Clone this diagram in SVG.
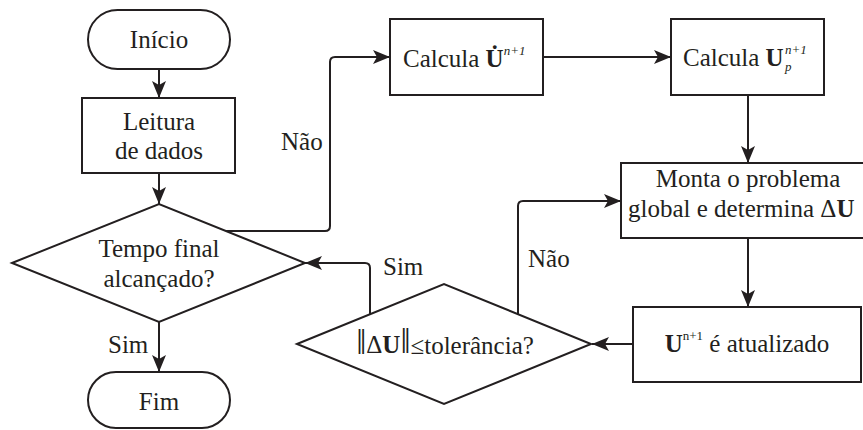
<svg xmlns="http://www.w3.org/2000/svg" width="863" height="430" viewBox="0 0 863 430">
<style>
.s{fill:#fff;stroke:#231f20;stroke-width:2}
.c{fill:none;stroke:#231f20;stroke-width:2}
text{font-size:25px;fill:#231f20}
.m{text-anchor:middle}
.b{font-weight:bold}
.i{font-style:italic}
.sup{font-size:13px}
</style>
<defs>
<marker id="a" viewBox="-17 -7 17 14" refX="0" refY="0" markerWidth="17" markerHeight="14" markerUnits="userSpaceOnUse" orient="auto">
<path d="M0,0 L-17,-7 L-13,0 L-17,7 Z" fill="#231f20"/>
</marker>
</defs>
<rect width="863" height="430" fill="#fff"/>
<g font-family="Liberation Serif, Times New Roman, serif">
<g id="connectors">
<path class="c" d="M159,69 V98" marker-end="url(#a)"/>
<path class="c" d="M159,173 V204" marker-end="url(#a)"/>
<path class="c" d="M226,231 H325 Q330,231 330,226 V62 Q330,57 335,57 H390" marker-end="url(#a)"/>
<path class="c" d="M543,57 H671" marker-end="url(#a)"/>
<path class="c" d="M748,95 V163" marker-end="url(#a)"/>
<path class="c" d="M748,238 V307" marker-end="url(#a)"/>
<path class="c" d="M633,344 H592" marker-end="url(#a)"/>
<path class="c" d="M518,314 V206 Q518,201 523,201 H621" marker-end="url(#a)"/>
<path class="c" d="M370,314 V268 Q370,263 365,263 H305" marker-end="url(#a)"/>
<path class="c" d="M159,322 V372" marker-end="url(#a)"/>
<text x="281" y="150">Não</text>
<text x="528" y="267">Não</text>
<text x="383" y="275">Sim</text>
<text x="108" y="353">Sim</text>
</g>
<g id="inicio">
<rect class="s" x="88" y="10" width="142" height="59" rx="29.5"/>
<text class="m" x="159" y="48">Início</text>
</g>
<g id="leitura">
<rect class="s" x="82" y="98" width="153" height="75"/>
<text class="m" x="159" y="130">Leitura</text>
<text class="m" x="159" y="159">de dados</text>
</g>
<g id="tempo">
<polygon class="s" points="12,263 159,204 305,263 159,322"/>
<text class="m" x="159" y="257">Tempo final</text>
<text class="m" x="159" y="287">alcançado?</text>
</g>
<g id="fim">
<rect class="s" x="88" y="372" width="142" height="56" rx="28"/>
<text class="m" x="159" y="410">Fim</text>
</g>
<g id="calcula1">
<rect class="s" x="390" y="19" width="153" height="76"/>
<text x="403" y="67">Calcula <tspan class="b">U&#775;</tspan><tspan class="i sup" dy="-12">n+1</tspan></text>
</g>
<g id="calcula2">
<rect class="s" x="671" y="19" width="153" height="76"/>
<text x="683" y="66">Calcula <tspan class="b">U</tspan></text>
<text class="i sup" x="785" y="54">n+1</text>
<text class="i sup" x="785" y="71">p</text>
</g>
<g id="monta">
<rect class="s" x="621" y="163" width="254" height="75"/>
<text class="m" x="748" y="187">Monta o problema</text>
<text x="628" y="217">global e determina Δ<tspan class="b">U</tspan></text>
</g>
<g id="atualiza">
<rect class="s" x="633" y="307" width="228" height="75"/>
<text class="m" x="747" y="352"><tspan class="b">U</tspan><tspan class="sup" dy="-12">n+1</tspan><tspan dy="12"> é atualizado</tspan></text>
</g>
<g id="tolerancia">
<polygon class="s" points="297,344 444,284 591,344 444,404"/>
<text class="m" x="445" y="354"><tspan font-size="36">‖</tspan><tspan dy="-1">Δ</tspan><tspan class="b">U</tspan><tspan font-size="36">‖</tspan><tspan dy="1">≤tolerância?</tspan></text>
</g>
</g>
</svg>
